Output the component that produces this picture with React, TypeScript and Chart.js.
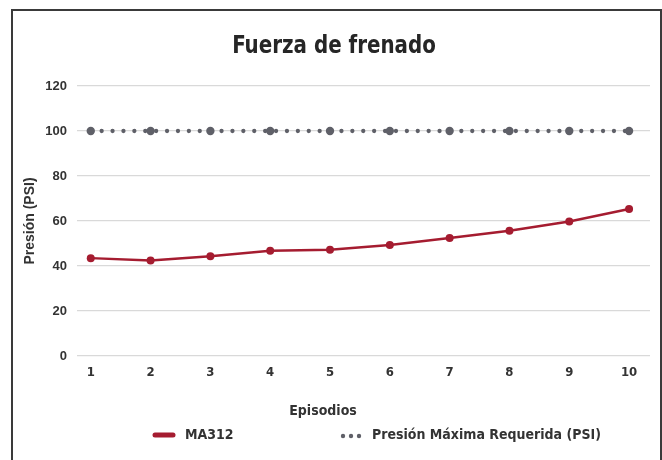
import React, { useEffect, useRef } from "react";
import { Chart, registerables } from "chart.js";

Chart.register(...registerables);

const categories = [1, 2, 3, 4, 5, 6, 7, 8, 9, 10];
const ma312 = [43.5, 42.5, 44.3, 46.8, 47.2, 49.3, 52.4, 55.7, 59.8, 65.3];
const presionMaxima = [100, 100, 100, 100, 100, 100, 100, 100, 100, 100];
const yTicks = [0, 20, 40, 60, 80, 100, 120];
const seriesNames = ["MA312", "Presión Máxima Requerida (PSI)"];
const titleText = "Fuerza de frenado";
const xTitle = "Episodios";
const yTitle = "Presión (PSI)";

const RED = "#a51c30";
const GRAY = "#5f6068";
const NARROW = '"Liberation Sans Narrow", "DejaVu Sans Condensed", "Roboto", sans-serif';
const WIDE = '"Liberation Sans", Arial, sans-serif';

const textPlugin = {
  id: "customText",
  afterDraw(chart: any) {
    const ctx = chart.ctx;
    ctx.save();
    // title
    ctx.font = `bold 24px ${NARROW}`;
    ctx.fillStyle = "#262626";
    ctx.textAlign = "center";
    ctx.textBaseline = "middle";
    ctx.save();
    ctx.translate(334, 46);
    ctx.scale(0.92, 1.05);
    ctx.fillText(titleText, 0, 0);
    ctx.restore();
    // x axis title
    ctx.font = `bold 14px ${NARROW}`;
    ctx.fillStyle = "#333333";
    ctx.fillText(xTitle, 323, 411);
    // legend
    const y = 435;
    ctx.textAlign = "left";
    ctx.strokeStyle = RED;
    ctx.lineWidth = 5;
    ctx.lineCap = "round";
    ctx.beginPath();
    ctx.moveTo(155, y);
    ctx.lineTo(173, y);
    ctx.stroke();
    ctx.fillText(seriesNames[0], 185, y);
    ctx.fillStyle = GRAY;
    [343, 351, 359].forEach((x) => {
      ctx.beginPath();
      ctx.arc(x, y + 1, 2.2, 0, Math.PI * 2);
      ctx.fill();
    });
    ctx.fillStyle = "#333333";
    ctx.fillText(seriesNames[1], 372, y);
    ctx.restore();
  },
};

export default function App() {
  const ref = useRef<HTMLCanvasElement | null>(null);
  useEffect(() => {
    document.body.style.margin = "0";
    const chart = new Chart(ref.current as HTMLCanvasElement, {
      type: "line",
      data: {
        datasets: [
          {
            label: seriesNames[0],
            data: categories.map((c, i) => ({ x: c, y: ma312[i] })),
            borderColor: RED,
            backgroundColor: RED,
            borderWidth: 2.5,
            pointRadius: 4,
            pointBackgroundColor: RED,
            pointBorderWidth: 0,
            tension: 0,
          },
          {
            label: seriesNames[1],
            data: categories.map((c, i) => ({ x: c, y: presionMaxima[i] })),
            borderColor: GRAY,
            backgroundColor: GRAY,
            borderWidth: 4.3,
            borderDash: [0, 10.9],
            borderCapStyle: "round",
            pointRadius: 4.2,
            pointBackgroundColor: GRAY,
            pointBorderWidth: 0,
          },
        ],
      },
      options: {
        animation: false,
        responsive: false,
        layout: { padding: { left: 0, right: 12, top: 86, bottom: 36 } },
        plugins: {
          legend: { display: false },
          tooltip: { enabled: false },
          title: { display: false },
        },
        scales: {
          x: {
            type: "linear",
            min: 0.77,
            max: 10.35,
            grid: { display: false, drawTicks: false },
            border: { display: false },
            afterBuildTicks: (s: any) => {
              s.ticks = categories.map((v) => ({ value: v }));
            },
            afterFit: (s: any) => {
              s.height = 68;
            },
            ticks: {
              color: "#333333",
              padding: 9,
              maxRotation: 0,
              autoSkip: false,
              font: { family: NARROW, size: 13, weight: "bold" },
            },
          },
          y: {
            min: 0,
            max: 120,
            afterBuildTicks: (s: any) => {
              s.ticks = yTicks.map((v) => ({ value: v }));
            },
            afterFit: (s: any) => {
              s.width = 77;
            },
            grid: { color: "#d9d9d9", lineWidth: 1.3, drawTicks: false },
            border: { display: false },
            ticks: {
              color: "#333333",
              padding: 10,
              font: { family: WIDE, size: 13, weight: "bold" },
            },
            title: {
              display: true,
              text: yTitle,
              color: "#333333",
              font: { family: WIDE, size: 14, weight: "bold" },
              padding: { top: 22, bottom: 0 },
            },
          },
        },
      },
      plugins: [textPlugin],
    } as any);
    return () => chart.destroy();
  }, []);
  return (
    <div style={{ position: "relative", width: 662, height: 460, background: "#fff", overflow: "hidden" }}>
      <canvas ref={ref} width={662} height={460} style={{ display: "block" }} />
      <div
        style={{
          position: "absolute",
          left: 11,
          top: 9,
          width: 647,
          height: 470,
          border: "2px solid #3a3a3a",
          pointerEvents: "none",
        }}
      />
    </div>
  );
}
